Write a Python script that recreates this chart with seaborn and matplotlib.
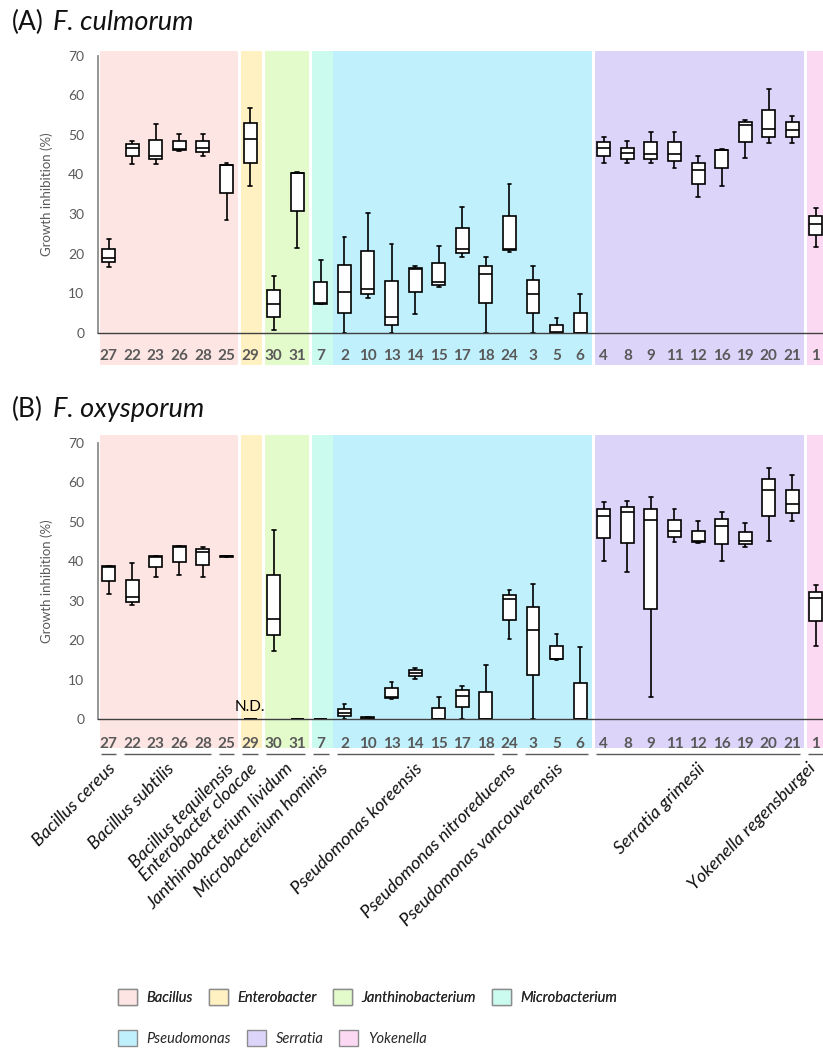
import matplotlib
matplotlib.use("Agg")
import matplotlib.pyplot as plt
import seaborn as sns
import pandas as pd
from matplotlib.patches import Rectangle, Patch

# ---------------- data ----------------
isolates = ["27", "22", "23", "26", "28", "25", "29", "30", "31", "7", "2", "10",
            "13", "14", "15", "17", "18", "24", "3", "5", "6", "4", "8", "9",
            "11", "12", "16", "19", "20", "21", "1"]

genera = ["Bacillus", "Enterobacter", "Janthinobacterium", "Microbacterium",
          "Pseudomonas", "Serratia", "Yokenella"]
genus_counts = [6, 1, 2, 1, 11, 9, 1]
genus_colors = ["#FDE5E3", "#FFF1C2", "#E3FACB", "#CBFBEF", "#C0F0FC",
                "#DDD4FA", "#FCD9F2"]

species = ["Bacillus cereus", "Bacillus subtilis", "Bacillus tequilensis",
           "Enterobacter cloacae", "Janthinobacterium lividum",
           "Microbacterium hominis", "Pseudomonas koreensis",
           "Pseudomonas nitroreducens", "Pseudomonas vancouverensis",
           "Serratia grimesii", "Yokenella regensburgei"]
species_counts = [1, 4, 1, 1, 2, 1, 7, 1, 3, 9, 1]

# (A) F. culmorum : five-number summaries per isolate
a_min = [16.7, 42.6, 42.6, 46.0, 44.6, 28.5, 37.1, 0.7, 21.3, 7.2, 0.0, 8.9,
         0.0, 4.8, 11.5, 19.2, 0.0, 20.3, 0.0, 0.0, 0.0, 43.0, 43.0, 43.0,
         41.7, 34.4, 37.2, 44.1, 48.0, 48.0, 21.6]
a_q1 = [17.8, 44.6, 43.8, 46.2, 45.6, 35.4, 43.0, 4.0, 30.8, 7.2, 5.1, 9.9,
        1.9, 10.4, 12.0, 20.2, 7.4, 20.9, 4.9, 0.0, 0.0, 44.6, 44.0, 44.0,
        43.3, 37.6, 41.6, 48.2, 49.5, 49.5, 24.6]
a_med = [18.8, 46.8, 44.6, 46.5, 46.6, 42.3, 48.9, 7.2, 40.3, 7.4, 10.2, 11.0,
         3.9, 16.0, 12.8, 21.2, 14.8, 21.2, 9.8, 0.3, 0.0, 46.6, 45.3, 45.2,
         45.2, 41.1, 46.2, 52.6, 51.4, 51.2, 27.6]
a_q3 = [21.1, 47.6, 48.8, 48.5, 48.5, 42.5, 52.9, 10.9, 40.4, 12.8, 17.2, 20.6,
        13.1, 16.3, 17.5, 26.4, 16.9, 29.6, 13.3, 1.9, 4.9, 48.1, 46.8, 48.1,
        48.1, 43.0, 46.3, 53.2, 56.4, 53.2, 29.6]
a_max = [23.6, 48.5, 52.7, 50.2, 50.2, 42.8, 56.9, 14.3, 40.5, 18.4, 24.3, 30.2,
         22.3, 16.9, 21.8, 31.8, 19.2, 37.7, 16.9, 3.6, 9.8, 49.5, 48.5, 50.7,
         50.7, 44.7, 46.5, 53.8, 61.5, 54.8, 31.5]

# (B) F. oxysporum : five-number summaries per isolate
b_min = [31.7, 28.9, 36.1, 36.4, 36.1, 41.0, 0.0, 17.2, 0.0, 0.0, 0.0, 0.0,
         5.1, 10.1, 0.0, 0.0, 0.0, 20.2, 0.0, 15.0, 0.0, 40.1, 37.2, 5.7,
         44.8, 44.7, 40.1, 43.6, 45.0, 50.3, 18.6]
b_q1 = [35.1, 29.8, 38.5, 39.7, 39.0, 41.1, 0.0, 21.3, 0.0, 0.0, 0.8, 0.1,
        5.5, 11.0, 0.0, 3.0, 0.0, 25.1, 11.1, 15.2, 0.0, 45.9, 44.7, 27.9,
        46.2, 44.8, 44.4, 44.4, 51.5, 52.1, 24.9]
b_med = [38.5, 31.0, 41.0, 43.7, 42.4, 41.2, 0.0, 25.3, 0.0, 0.0, 1.7, 0.3,
         5.7, 11.8, 0.0, 5.9, 0.0, 30.5, 22.6, 15.3, 0.0, 51.4, 52.5, 50.4,
         47.7, 45.0, 48.9, 45.2, 58.0, 54.5, 30.8]
b_q3 = [38.8, 35.2, 41.2, 43.9, 43.1, 41.3, 0.0, 36.6, 0.0, 0.0, 2.7, 0.5,
        7.8, 12.5, 2.9, 7.3, 6.9, 31.5, 28.3, 18.6, 9.1, 53.1, 53.7, 53.1,
        50.4, 47.7, 50.7, 47.4, 60.8, 58.0, 32.3]
b_max = [38.8, 39.6, 41.2, 43.9, 43.7, 41.4, 0.0, 47.9, 0.0, 0.0, 3.8, 0.7,
         9.4, 12.9, 5.7, 8.5, 13.8, 32.6, 34.3, 21.6, 18.2, 54.9, 55.2, 56.2,
         53.1, 50.3, 52.5, 49.6, 63.7, 61.7, 34.0]

y_ticks = [0, 10, 20, 30, 40, 50, 60, 70]


def long_form(*cols):
    rows = []
    for i, iso in enumerate(isolates):
        for col in cols:
            rows.append((iso, col[i]))
    return pd.DataFrame(rows, columns=["isolate", "value"])


# ---------------- style ----------------
sns.set_theme(style="white")
plt.rcParams["font.family"] = ["Lato", "DejaVu Sans"]
GRAY = "#595959"

fig = plt.figure(figsize=(8.23, 10.55), dpi=100)
axA = fig.add_axes([0.1191, 0.6846, 0.8809, 0.2626])
axB = fig.add_axes([0.1191, 0.3182, 0.8809, 0.2622])


def draw_panel(ax, df, band_lo, band_hi, tick_pad):
    # genus background bands
    start = 0
    for g, (n, c) in enumerate(zip(genus_counts, genus_colors)):
        first, last = start, start + n - 1
        left = first - (0.5 if genera[g] == "Pseudomonas" else 0.37)
        right = last + 0.5
        ax.add_patch(Rectangle((left, band_lo), right - left, band_hi - band_lo,
                               facecolor=c, edgecolor="none", zorder=0,
                               clip_on=False))
        start += n

    sns.boxplot(data=df, x="isolate", y="value", order=isolates,
                whis=(0, 100), width=0.55, color="white", saturation=1,
                linecolor="black", linewidth=1.2, showfliers=False,
                capwidths=0.16, ax=ax)
    for art in list(ax.lines) + list(ax.patches):
        art.set_clip_on(False)

    ax.set_xlim(-0.45, 30.3)
    ax.set_ylim(0, 70)
    ax.set_yticks(y_ticks)
    ax.set_xlabel("")
    ax.set_ylabel("Growth inhibition (%)", fontsize=9.5, color=GRAY, labelpad=11)
    ax.tick_params(axis="y", length=0, pad=10, labelsize=10, labelcolor=GRAY)
    ax.tick_params(axis="x", length=0, pad=tick_pad, labelsize=11, labelcolor=GRAY)
    for lab in ax.get_xticklabels():
        lab.set_fontweight("bold")
    ax.spines["top"].set_visible(False)
    ax.spines["right"].set_visible(False)
    ax.spines["left"].set_color("#8c8c8c")
    ax.spines["left"].set_linewidth(1.3)
    ax.spines["bottom"].set_color("#404040")
    ax.spines["bottom"].set_linewidth(1.0)
    ax.spines["left"].set_zorder(3)
    ax.spines["bottom"].set_zorder(3)
    ax.set_facecolor("none")


draw_panel(axA, long_form(a_min, a_q1, a_med, a_q3, a_max), -8.2, 71.2, 11.5)
draw_panel(axB, long_form(b_min, b_q1, b_med, b_q3, b_max), -7.3, 71.95, 12.5)

# N.D. marker for isolate 29 in panel B
axB.text(isolates.index("29"), 1.3, "N.D.", ha="center", va="bottom",
         fontsize=11, color="black", zorder=5)

# species brackets and labels under panel B
start = 0
for name, n in zip(species, species_counts):
    first, last = start, start + n - 1
    axB.plot([first - 0.33, last + 0.33], [-8.85, -8.85], color=GRAY, lw=1.0,
             clip_on=False, solid_capstyle="butt")
    anchor_x = min((first + last) / 2 - 0.05, 29.65)
    axB.text(anchor_x, -10.4, name, rotation=45, ha="right", va="top",
             rotation_mode="anchor", fontsize=13, style="italic", color="#111111",
             clip_on=False)
    start += n

# panel titles
for ypix, tag, organism in [(30, "(A)", "F. culmorum"), (417, "(B)", "F. oxysporum")]:
    yy = 1 - ypix / 1055
    fig.text(12 / 823, yy, tag, fontsize=19, va="baseline", ha="left", color="#111111")
    fig.text(53 / 823, yy, organism, fontsize=19.5, style="italic", va="baseline",
             ha="left", color="#111111")

# legend (two rows)
handles = [Patch(facecolor=c, edgecolor="#8c8c8c", linewidth=1.0) for c in genus_colors]
leg_kw = dict(loc="center left", frameon=False, handlelength=1.3, handleheight=1.4,
              handletextpad=0.65, columnspacing=1.1, borderpad=0, borderaxespad=0,
              prop=dict(style="italic", size=10.5))
leg1 = fig.legend(handles[:4], genera[:4], ncol=4,
                  bbox_to_anchor=(118 / 823, 1 - 997 / 1055), **leg_kw)
fig.add_artist(leg1)
fig.legend(handles[4:], genera[4:], ncol=3,
           bbox_to_anchor=(118 / 823, 1 - 1038 / 1055), **leg_kw)

fig.savefig("out.png", dpi=100)
